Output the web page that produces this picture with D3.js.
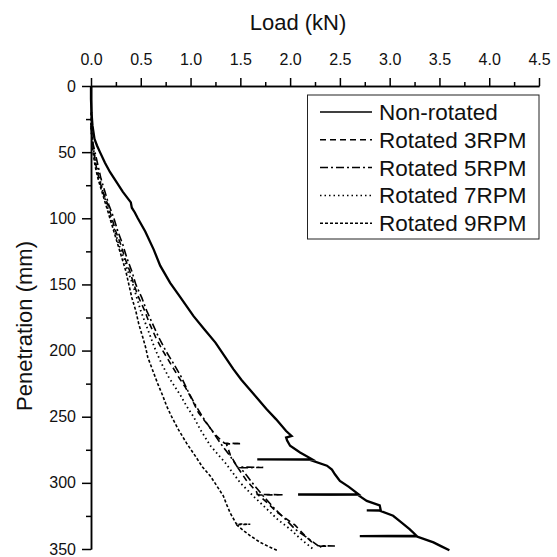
<!DOCTYPE html>
<html>
<head>
<meta charset="utf-8">
<script src="https://cdn.jsdelivr.net/npm/d3@7"></script>
<style>
    body { margin: 0; background: #fff; }
    svg { font-family: "Liberation Sans", Arial, sans-serif; }
</style>
</head>
<body>
<div class="container"></div>
<script>
/**DATA
 * each series: [penetration (mm), load (kN)]
 */
const nonRotated = [
    [0, 0], [10, 0], [20, 0.005], [30, 0.015], [40, 0.035], [45, 0.06], [50, 0.09], [58, 0.14],
    [65, 0.19], [73, 0.26], [80, 0.32], [88, 0.4], [92, 0.41], [95.6, 0.44], [100, 0.47],
    [110, 0.545], [123.7, 0.63], [135.8, 0.695], [148.8, 0.795], [160, 0.9], [174, 1.03],
    [184, 1.14], [194, 1.25], [204, 1.34], [214, 1.43], [222, 1.51], [229, 1.59], [236, 1.67],
    [244, 1.76], [252, 1.86], [260.8, 1.96], [264.5, 2.015], [265.8, 1.96], [268, 1.97],
    [272, 2.0], [277, 2.1], [282, 2.217], [282.3, 1.67], [282.6, 2.2], [287, 2.37], [290, 2.42],
    [293.5, 2.45], [298.5, 2.5], [303, 2.59], [308.5, 2.685], [308.8, 2.08], [309.1, 2.68],
    [313.6, 2.77], [317, 2.9], [320.6, 2.91], [320.8, 2.77], [321, 2.9], [324.9, 3.035],
    [330, 3.12], [335, 3.2], [340, 3.27], [340.2, 2.7], [340.4, 3.27], [345, 3.44], [348, 3.52],
    [351, 3.6]
];

const rotated3 = [
    [28, 0], [40, 0.01], [50, 0.03], [60, 0.05], [70, 0.08], [80, 0.12], [90, 0.17], [100, 0.21],
    [110, 0.25], [120, 0.3], [130, 0.34], [140, 0.39], [150, 0.43], [160, 0.48], [170, 0.54],
    [180, 0.59], [190, 0.65], [200, 0.72], [210, 0.8], [220, 0.88], [228, 0.95], [235, 1.0],
    [247, 1.08], [256, 1.17], [264.5, 1.26], [270, 1.34], [270.3, 1.51], [270.6, 1.36],
    [279, 1.4], [288, 1.47], [298, 1.56], [307, 1.665], [308.8, 1.67], [309, 1.93], [309.2, 1.68],
    [315, 1.77], [322, 1.865], [332, 2.05], [340, 2.15], [347, 2.25]
];

const rotated5 = [
    [30, 0], [40, 0.01], [50, 0.04], [60, 0.07], [70, 0.1], [80, 0.14], [90, 0.18], [100, 0.23],
    [110, 0.27], [120, 0.32], [130, 0.36], [140, 0.41], [150, 0.45], [160, 0.51], [170, 0.56],
    [180, 0.62], [190, 0.68], [200, 0.75], [210, 0.83], [219, 0.9], [230, 0.97], [240, 1.04],
    [250, 1.12], [260, 1.21], [270, 1.3], [280, 1.4], [288, 1.47], [288.3, 1.73], [288.6, 1.5],
    [295, 1.57], [300, 1.62], [310, 1.73], [320, 1.85], [328, 1.96], [335, 2.05], [342, 2.18],
    [347.5, 2.28], [347.7, 2.45], [347.9, 2.3], [349, 2.32]
];

const rotated7 = [
    [25, 0], [35, 0.005], [45, 0.02], [55, 0.04], [65, 0.07], [80, 0.12], [90, 0.16], [100, 0.2],
    [110, 0.24], [120, 0.28], [130, 0.33], [140, 0.37], [150, 0.42], [160, 0.46], [170, 0.5],
    [180, 0.55], [190, 0.6], [200, 0.65], [210, 0.71], [220, 0.78], [227, 0.84], [234, 0.9],
    [242, 0.96], [250, 1.03], [260, 1.1], [272, 1.2], [285, 1.35], [292, 1.42], [300, 1.5],
    [310, 1.63], [320, 1.77], [328, 1.88], [335, 2.0], [342, 2.1], [350, 2.23]
];

const rotated9 = [
    [20, 0], [30, 0.005], [40, 0.01], [50, 0.02], [60, 0.04], [70, 0.07], [80, 0.11], [90, 0.15],
    [100, 0.19], [110, 0.23], [120, 0.27], [130, 0.31], [140, 0.35], [150, 0.38], [160, 0.41],
    [170, 0.45], [180, 0.48], [190, 0.52], [198, 0.55], [205, 0.57], [215, 0.62], [225, 0.67],
    [234, 0.72], [242, 0.76], [250, 0.81], [260, 0.88], [270, 0.96], [280, 1.05], [288, 1.12],
    [295, 1.2], [303, 1.27], [310, 1.33], [316, 1.36], [323, 1.4], [331, 1.46], [331.3, 1.6],
    [331.6, 1.46], [336, 1.53], [340, 1.6], [345, 1.7], [348, 1.78], [351, 1.87]
];

const seriesNames = ["Non-rotated", "Rotated 3RPM", "Rotated 5RPM", "Rotated 7RPM", "Rotated 9RPM"];
const seriesData = [nonRotated, rotated3, rotated5, rotated7, rotated9];
const seriesDash = [null, "6,4", "8,3,2,3", "1.5,3", "3,2"];
const seriesWidth = [2.3, 1.6, 1.6, 1.8, 1.6];

const xTicks = [0, 0.5, 1, 1.5, 2, 2.5, 3, 3.5, 4, 4.5];
const yTicks = [0, 50, 100, 150, 200, 250, 300, 350];

/**SETUP */
const margin = { top: 86, right: 18, bottom: 8, left: 91 };
const width = 557 - margin.left - margin.right,
        height = 557 - margin.top - margin.bottom;

const svg = d3.select(".container")
    .append("svg")
    .attr("width", 557)
    .attr("height", 557);

const canvas = svg
    .append("g")
    .attr("transform", `translate(${margin.left}, ${margin.top})`);

const x = d3.scaleLinear().domain([0, 4.5]).range([0, width]);
const y = d3.scaleLinear().domain([0, 350]).range([0, height]);

/**AXES */
// minor ticks half way between the majors
const xMinor = d3.axisTop(x)
    .tickValues(d3.range(0.25, 4.5, 0.5))
    .tickSize(4)
    .tickSizeOuter(0)
    .tickFormat("");

const xAxis = d3.axisTop(x)
    .tickValues(xTicks)
    .tickSize(8)
    .tickSizeOuter(0)
    .tickPadding(13)
    .tickFormat(d3.format(".1f"));

const yMinor = d3.axisLeft(y)
    .tickValues(d3.range(25, 350, 50))
    .tickSize(5)
    .tickSizeOuter(0)
    .tickFormat("");

const yAxis = d3.axisLeft(y)
    .tickValues(yTicks)
    .tickSize(9)
    .tickSizeOuter(0)
    .tickPadding(6);

[xMinor, xAxis].forEach(a => canvas.append("g").attr("class", "axis").call(a));
[yMinor, yAxis].forEach(a => canvas.append("g").attr("class", "axis").call(a));

canvas.selectAll(".axis path, .axis line")
    .attr("stroke", "#000")
    .attr("stroke-width", 1.5);

canvas.selectAll(".axis text")
    .attr("font-size", "16px")
    .attr("fill", "#111");

svg.append("text")
    .text("Load (kN)")
    .attr("x", 298)
    .attr("y", 30)
    .attr("text-anchor", "middle")
    .attr("font-size", "22px")
    .attr("fill", "#111");

svg.append("text")
    .text("Penetration (mm)")
    .attr("transform", "translate(32, 326) rotate(-90)")
    .attr("text-anchor", "middle")
    .attr("font-size", "22px")
    .attr("fill", "#111");

/**LINES */
const line = d3.line()
    .x(d => x(d[1]))
    .y(d => y(d[0]));

canvas.selectAll(".series")
    .data(seriesData)
    .enter()
    .append("path")
    .attr("class", "series")
    .attr("d", d => line(d))
    .attr("fill", "none")
    .attr("stroke", "#000")
    .attr("stroke-width", (d, i) => seriesWidth[i])
    .attr("stroke-dasharray", (d, i) => seriesDash[i]);

/**LEGEND */
const legend = svg.append("g");

legend.append("rect")
    .attr("x", 307.5)
    .attr("y", 95)
    .attr("width", 231.5)
    .attr("height", 144)
    .attr("fill", "#fff")
    .attr("stroke", "#222")
    .attr("stroke-width", 1);

const rows = legend.selectAll(".row")
    .data(seriesNames)
    .enter()
    .append("g")
    .attr("transform", (d, i) => `translate(0, ${112 + i * 27.8})`);

rows.append("line")
    .attr("x1", 320)
    .attr("x2", 372)
    .attr("stroke", "#000")
    .attr("stroke-width", (d, i) => Math.min(seriesWidth[i], 1.5))
    .attr("stroke-dasharray", (d, i) => seriesDash[i]);

rows.append("text")
    .text(d => d)
    .attr("x", 379)
    .attr("y", 8)
    .attr("font-size", "22.5px")
    .attr("fill", "#111");
</script>
</body>
</html>
